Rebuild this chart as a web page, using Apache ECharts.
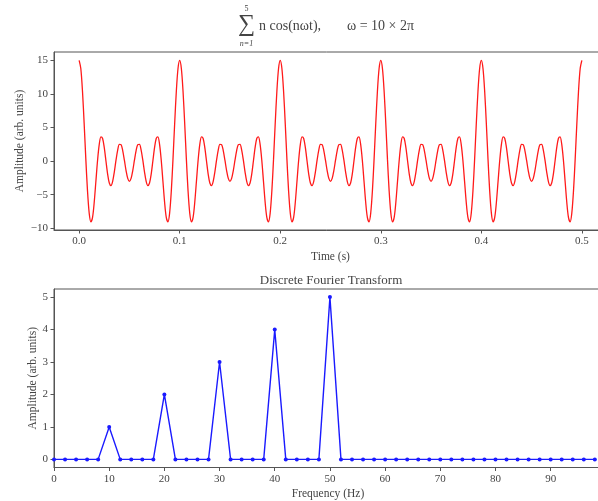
<!DOCTYPE html>
<html>
<head>
<meta charset="utf-8">
<script src="https://cdn.jsdelivr.net/npm/echarts@6/dist/echarts.min.js"></script>
<style>
  html, body { margin: 0; padding: 0; background: #fff; }
  #chart { width: 598px; height: 501px; }
</style>
</head>
<body>
<div id="chart"></div>
<script>
// signal sampled every 1/600 s (0 .. 0.5 s)
const timeStep = 1 / 600
const amplitude = [
  15, 13.79, 10.41, 5.57, 0.26, -4.46, -7.74, -9.05, -8.38, -6.12, -3, 0.13, 2.5, 3.62, 3.38, 2, 0.02, -1.93, -3.26, -3.64, -3, -1.59, 0.14, 1.65, 2.5, 2.46, 1.58, 0.14, -1.4, -2.57, -3, -2.57, -1.4, 0.14, 1.58, 2.46, 2.5, 1.65, 0.14, -1.59, -3, -3.64, -3.26, -1.93, 0.02, 2, 3.38, 3.62, 2.5, 0.13, -3, -6.12, -8.38, -9.05, -7.74, -4.46, 0.26, 5.57, 10.41, 13.79,
  15, 13.79, 10.41, 5.57, 0.26, -4.46, -7.74, -9.05, -8.38, -6.12, -3, 0.13, 2.5, 3.62, 3.38, 2, 0.02, -1.93, -3.26, -3.64, -3, -1.59, 0.14, 1.65, 2.5, 2.46, 1.58, 0.14, -1.4, -2.57, -3, -2.57, -1.4, 0.14, 1.58, 2.46, 2.5, 1.65, 0.14, -1.59, -3, -3.64, -3.26, -1.93, 0.02, 2, 3.38, 3.62, 2.5, 0.13, -3, -6.12, -8.38, -9.05, -7.74, -4.46, 0.26, 5.57, 10.41, 13.79,
  15, 13.79, 10.41, 5.57, 0.26, -4.46, -7.74, -9.05, -8.38, -6.12, -3, 0.13, 2.5, 3.62, 3.38, 2, 0.02, -1.93, -3.26, -3.64, -3, -1.59, 0.14, 1.65, 2.5, 2.46, 1.58, 0.14, -1.4, -2.57, -3, -2.57, -1.4, 0.14, 1.58, 2.46, 2.5, 1.65, 0.14, -1.59, -3, -3.64, -3.26, -1.93, 0.02, 2, 3.38, 3.62, 2.5, 0.13, -3, -6.12, -8.38, -9.05, -7.74, -4.46, 0.26, 5.57, 10.41, 13.79,
  15, 13.79, 10.41, 5.57, 0.26, -4.46, -7.74, -9.05, -8.38, -6.12, -3, 0.13, 2.5, 3.62, 3.38, 2, 0.02, -1.93, -3.26, -3.64, -3, -1.59, 0.14, 1.65, 2.5, 2.46, 1.58, 0.14, -1.4, -2.57, -3, -2.57, -1.4, 0.14, 1.58, 2.46, 2.5, 1.65, 0.14, -1.59, -3, -3.64, -3.26, -1.93, 0.02, 2, 3.38, 3.62, 2.5, 0.13, -3, -6.12, -8.38, -9.05, -7.74, -4.46, 0.26, 5.57, 10.41, 13.79,
  15, 13.79, 10.41, 5.57, 0.26, -4.46, -7.74, -9.05, -8.38, -6.12, -3, 0.13, 2.5, 3.62, 3.38, 2, 0.02, -1.93, -3.26, -3.64, -3, -1.59, 0.14, 1.65, 2.5, 2.46, 1.58, 0.14, -1.4, -2.57, -3, -2.57, -1.4, 0.14, 1.58, 2.46, 2.5, 1.65, 0.14, -1.59, -3, -3.64, -3.26, -1.93, 0.02, 2, 3.38, 3.62, 2.5, 0.13, -3, -6.12, -8.38, -9.05, -7.74, -4.46, 0.26, 5.57, 10.41, 13.79,
  15
]

const frequency = [0, 2, 4, 6, 8, 10, 12, 14, 16, 18, 20, 22, 24, 26, 28, 30, 32, 34, 36, 38, 40, 42, 44, 46, 48,
  50, 52, 54, 56, 58, 60, 62, 64, 66, 68, 70, 72, 74, 76, 78, 80, 82, 84, 86, 88, 90, 92, 94, 96, 98]
const dftAmplitude = [0, 0, 0, 0, 0, 1, 0, 0, 0, 0, 2, 0, 0, 0, 0, 3, 0, 0, 0, 0, 4, 0, 0, 0, 0,
  5, 0, 0, 0, 0, 0, 0, 0, 0, 0, 0, 0, 0, 0, 0, 0, 0, 0, 0, 0, 0, 0, 0, 0, 0]

const timeTicks = [0, 0.1, 0.2, 0.3, 0.4, 0.5]
const signalTicks = [-10, -5, 0, 5, 10, 15]
const freqTicks = [0, 10, 20, 30, 40, 50, 60, 70, 80, 90]
const dftTicks = [0, 1, 2, 3, 4, 5]

const serif = 'Liberation Serif'
const textColor = '#444'
const spineColor = '#555'

const chart = echarts.init(document.getElementById('chart'))

function minus(v) {
  return String(v).replace('-', '\u2212')
}

function axisBase(ticks, fmt) {
  return {
    axisLine: { show: true, onZero: false, lineStyle: { color: spineColor, width: 1 } },
    axisTick: { show: true, customValues: ticks, length: 3.5, lineStyle: { color: spineColor } },
    axisLabel: { customValues: ticks, color: textColor, fontFamily: serif, fontSize: 11, margin: 6, formatter: fmt },
    splitLine: { show: false },
    nameMoveOverlap: false,
    nameTextStyle: { color: textColor, fontFamily: serif, fontSize: 11.5 }
  }
}

const option = {
  animation: false,
  backgroundColor: '#fff',
  title: [{
    text: 'Discrete Fourier Transform',
    left: 326, top: 269, textAlign: 'center',
    textStyle: { color: textColor, fontFamily: serif, fontSize: 13, fontWeight: 'normal' }
  }],
  graphic: [
    { type: 'text', x: 246.5, y: 25, style: { text: '\u2211', fontFamily: serif, fontSize: 24, fill: textColor, align: 'center', verticalAlign: 'middle' } },
    { type: 'text', x: 246.5, y: 9, style: { text: '5', fontFamily: serif, fontSize: 8, fill: textColor, align: 'center', verticalAlign: 'middle' } },
    { type: 'text', x: 246.5, y: 44, style: { text: 'n=1', fontFamily: serif, fontSize: 8, fontStyle: 'italic', fill: textColor, align: 'center', verticalAlign: 'middle' } },
    { type: 'text', x: 259, y: 26, style: { text: 'n cos(n\u03c9t),', fontFamily: serif, fontSize: 14, fill: textColor, verticalAlign: 'middle' } },
    { type: 'text', x: 347, y: 26, style: { text: '\u03c9 = 10 \u00d7 2\u03c0', fontFamily: serif, fontSize: 14, fill: textColor, verticalAlign: 'middle' } }
  ],
  grid: [
    { left: 54, width: 553, top: 52, height: 178, outerBoundsMode: 'none', show: true, borderColor: spineColor, borderWidth: 1 },
    { left: 54, width: 548, top: 289, height: 178.5, outerBoundsMode: 'none', show: true, borderColor: spineColor, borderWidth: 1 }
  ],
  xAxis: [
    Object.assign(axisBase(timeTicks, v => v.toFixed(1)), {
      gridIndex: 0, type: 'value', min: -0.025, max: 0.525,
      name: 'Time (s)', nameLocation: 'middle', nameGap: 21
    }),
    Object.assign(axisBase(freqTicks, v => String(v)), {
      gridIndex: 1, type: 'value', min: 0, max: 99.3,
      name: 'Frequency (Hz)', nameLocation: 'middle', nameGap: 20
    })
  ],
  yAxis: [
    Object.assign(axisBase(signalTicks, minus), {
      gridIndex: 0, type: 'value', min: -10.25, max: 16.25,
      name: 'Amplitude (arb. units)', nameLocation: 'middle', nameGap: 28
    }),
    Object.assign(axisBase(dftTicks, minus), {
      gridIndex: 1, type: 'value', min: -0.25, max: 5.25,
      name: 'Amplitude (arb. units)', nameLocation: 'middle', nameGap: 15
    })
  ],
  series: [
    {
      type: 'line', xAxisIndex: 0, yAxisIndex: 0,
      data: amplitude.map((v, i) => [i * timeStep, v]),
      showSymbol: false, smooth: 0.3,
      lineStyle: { color: '#ff1a1a', width: 1.3 }
    },
    {
      type: 'line', xAxisIndex: 1, yAxisIndex: 1,
      data: frequency.map((f, i) => [f, dftAmplitude[i]]),
      symbol: 'circle', symbolSize: 4, showSymbol: true,
      lineStyle: { color: '#1a1aff', width: 1.4 },
      itemStyle: { color: '#1a1aff' }
    }
  ]
}

chart.setOption(option)
</script>
</body>
</html>
